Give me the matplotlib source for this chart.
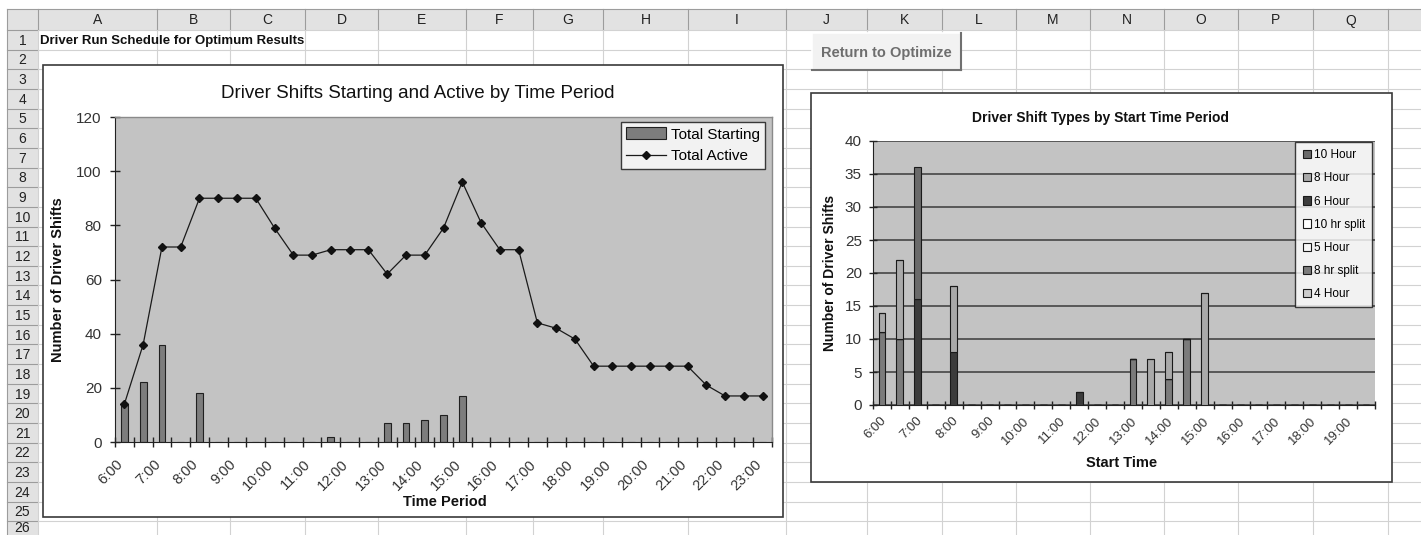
import matplotlib
matplotlib.use("Agg")
import matplotlib.pyplot as plt
from matplotlib.patches import Rectangle, Patch
from matplotlib.lines import Line2D
from matplotlib import font_manager as fm
import numpy as np

# ---------------- data ----------------
periods = ["6:00", "6:30", "7:00", "7:30", "8:00", "8:30", "9:00", "9:30", "10:00", "10:30",
           "11:00", "11:30", "12:00", "12:30", "13:00", "13:30", "14:00", "14:30", "15:00", "15:30",
           "16:00", "16:30", "17:00", "17:30", "18:00", "18:30", "19:00", "19:30", "20:00", "20:30",
           "21:00", "21:30", "22:00", "22:30", "23:00"]
total_starting = [14, 22, 36, 0, 18, 0, 0, 0, 0, 0, 0, 2, 0, 0, 7, 7, 8, 10, 17, 0,
                  0, 0, 0, 0, 0, 0, 0, 0, 0, 0, 0, 0, 0, 0, 0]
total_active = [14, 36, 72, 72, 90, 90, 90, 90, 79, 69, 69, 71, 71, 71, 62, 69, 69, 79, 96, 81,
                71, 71, 44, 42, 38, 28, 28, 28, 28, 28, 28, 21, 17, 17, 17]

start_periods = periods[:28]
shift_types = ["10 Hour", "8 Hour", "6 Hour", "10 hr split", "5 Hour", "8 hr split", "4 Hour"]
hr10 =      [0, 0, 20, 0, 0, 0, 0, 0, 0, 0, 0, 0, 0, 0, 0, 0, 0, 0, 0, 0, 0, 0, 0, 0, 0, 0, 0, 0]
hr8 =       [3, 12, 0, 0, 10, 0, 0, 0, 0, 0, 0, 0, 0, 0, 0, 7, 4, 0, 17, 0, 0, 0, 0, 0, 0, 0, 0, 0]
hr6 =       [0, 0, 16, 0, 8, 0, 0, 0, 0, 0, 0, 2, 0, 0, 0, 0, 0, 0, 0, 0, 0, 0, 0, 0, 0, 0, 0, 0]
hr10split = [0] * 28
hr5 =       [0] * 28
hr8split =  [11, 10, 0, 0, 0, 0, 0, 0, 0, 0, 0, 0, 0, 0, 7, 0, 4, 10, 0, 0, 0, 0, 0, 0, 0, 0, 0, 0]
hr4 =       [0] * 28
shift_values = [hr10, hr8, hr6, hr10split, hr5, hr8split, hr4]
shift_colors = ["#6a6a6a", "#a9a9a9", "#3c3c3c", "#ffffff", "#f6f6f6", "#7b7b7b", "#cdcdcd"]

col_labels = list("ABCDEFGHIJKLMNOPQ")
col_edges = [38, 157, 230, 305, 378, 466, 533, 603, 688, 786, 867, 942, 1016, 1090, 1164, 1238, 1313, 1388]
row_labels = [str(i) for i in range(1, 27)]

# ---------------- fonts ----------------
def has_font(name):
    try:
        fm.findfont(fm.FontProperties(family=name), fallback_to_default=False)
        return True
    except Exception:
        return False

REG = "Liberation Sans" if has_font("Liberation Sans") else "DejaVu Sans"
NAR = "Liberation Sans Narrow" if has_font("Liberation Sans Narrow") else REG
plt.rcParams["font.family"] = [REG, "DejaVu Sans"]

W, H = 1421, 535
fig = plt.figure(figsize=(W / 100, H / 100), dpi=100)
fig.patch.set_facecolor("white")

# ---------------- spreadsheet background ----------------
bg = fig.add_axes([0, 0, 1, 1])
bg.set_xlim(0, W)
bg.set_ylim(H, 0)
bg.axis("off")

HDR_TOP, HDR_BOT = 9, 30
ROW_H = 19.65
LEFT, RH_RIGHT = 7, 38
grid_c = "#d2d2d2"
hdr_c = "#e2e2e2"
hdr_line = "#9c9c9c"

bg.add_patch(Rectangle((LEFT, HDR_TOP), W - LEFT, HDR_BOT - HDR_TOP, facecolor=hdr_c, edgecolor="none", zorder=1))
bg.add_patch(Rectangle((LEFT, HDR_TOP), RH_RIGHT - LEFT, H - HDR_TOP, facecolor=hdr_c, edgecolor="none", zorder=1))

for k in range(0, 27):
    y = HDR_BOT + k * ROW_H
    bg.plot([LEFT, RH_RIGHT], [y, y], color=hdr_line, lw=0.8, zorder=2)
    bg.plot([RH_RIGHT, W], [y, y], color=grid_c, lw=0.8, zorder=2)
bg.plot([LEFT, W], [HDR_TOP, HDR_TOP], color=hdr_line, lw=0.8, zorder=2)
for x in col_edges:
    bg.plot([x, x], [HDR_TOP, HDR_BOT], color=hdr_line, lw=0.8, zorder=2)
    bg.plot([x, x], [HDR_BOT, H], color=grid_c, lw=0.8, zorder=2)
bg.plot([LEFT, LEFT], [HDR_TOP, H], color=hdr_line, lw=0.8, zorder=2)

for i, lab in enumerate(col_labels):
    xc = (col_edges[i] + col_edges[i + 1]) / 2
    bg.text(xc, (HDR_TOP + HDR_BOT) / 2 + 1, lab, ha="center", va="center", fontsize=10, color="#222222", zorder=3)
for k, lab in enumerate(row_labels):
    yc = HDR_BOT + (k + 0.5) * ROW_H
    if yc + 7 > H:
        bg.text((LEFT + RH_RIGHT) / 2, H - 0.5, lab, ha="center", va="bottom", fontsize=10, color="#222222",
                family=NAR, zorder=3)
    else:
        bg.text((LEFT + RH_RIGHT) / 2, yc + 1, lab, ha="center", va="center", fontsize=10, color="#222222",
                family=NAR, zorder=3)

bg.text(40, HDR_BOT + 0.5 * ROW_H + 1, "Driver Run Schedule for Optimum Results", ha="left", va="center",
        fontsize=9.5, fontweight="bold", family=NAR, color="#111111", zorder=3)

# button
bx0, by0, bx1, by1 = 812, 33, 961, 70
bg.add_patch(Rectangle((bx0, by0), bx1 - bx0, by1 - by0, facecolor="#f2f2f2", edgecolor="none", zorder=4))
bg.plot([bx0, bx1], [by0, by0], color="#ffffff", lw=1.2, zorder=5)
bg.plot([bx0, bx0], [by0, by1], color="#ffffff", lw=1.2, zorder=5)
bg.plot([bx0, bx1], [by1, by1], color="#707070", lw=1.5, zorder=5)
bg.plot([bx1, bx1], [by0, by1], color="#707070", lw=1.5, zorder=5)
bg.text((bx0 + bx1) / 2, (by0 + by1) / 2 + 1, "Return to Optimize", ha="center", va="center",
        fontsize=10.5, fontweight="bold", family=NAR, color="#6e6e6e", zorder=6)

# chart areas
L_box = (43, 65, 783, 517)
R_box = (811, 93, 1392, 482)
for (x0, y0, x1, y1) in (L_box, R_box):
    bg.add_patch(Rectangle((x0, y0), x1 - x0, y1 - y0, facecolor="white", edgecolor="#3a3a3a", lw=1.2, zorder=7))


def px_axes(x0, y0, x1, y1):
    return fig.add_axes([x0 / W, 1 - y1 / H, (x1 - x0) / W, (y1 - y0) / H])


PLOT_BG = "#c3c3c3"

# ---------------- left chart ----------------
axL = px_axes(115, 117, 772, 442)
axL.set_facecolor(PLOT_BG)
n = len(periods)
xi = np.arange(n)
bars = axL.bar(xi, total_starting, width=0.36, color="#7d7d7d", edgecolor="#202020", lw=0.8, zorder=2)
line, = axL.plot(xi, total_active, color="#1a1a1a", lw=0.9, marker="D", ms=4.2, mfc="#111111", mec="#111111",
                 zorder=3)
axL.set_xlim(-0.5, n - 0.5)
axL.set_ylim(0, 120)
axL.set_yticks(np.arange(0, 121, 20))
axL.set_xticks(np.arange(-0.5, n, 1.0), minor=True)
axL.set_xticks(xi[::2])
axL.set_xticklabels([])
axL.tick_params(axis="x", which="major", length=0)
axL.tick_params(axis="x", which="minor", direction="inout", length=7, width=1, color="#222222")
axL.tick_params(axis="y", direction="inout", length=7, width=1, color="#222222", labelsize=11,
                labelcolor="#333333", pad=6)
for lab in axL.get_yticklabels():
    lab.set_family(NAR)
for s in ("top", "right"):
    axL.spines[s].set_color("#8a8a8a")
    axL.spines[s].set_linewidth(1.0)
axL.spines["left"].set_color("#222222")
axL.spines["bottom"].set_color("#222222")
for i in xi[::2]:
    axL.text(i - 0.45, -5.5, periods[i], rotation=45, rotation_mode="anchor", ha="right", va="top",
             fontsize=10.5, family=NAR, color="#333333")
axL.set_ylabel("Number of Driver Shifts", fontsize=10.5, fontweight="bold", family=NAR, labelpad=8,
               color="#111111")
fig.text(445 / W, 1 - 502 / H, "Time Period", ha="center", va="center", fontsize=10.5, fontweight="bold",
         family=NAR, color="#111111")
fig.text(418 / W, 1 - 93 / H, "Driver Shifts Starting and Active by Time Period", ha="center", va="center",
         fontsize=13.5, color="#111111")
legL = axL.legend([bars, line], ["Total Starting", "Total Active"], loc="upper right",
                  bbox_to_anchor=(765 / W, 1 - 122 / H), bbox_transform=fig.transFigure,
                  borderaxespad=0, frameon=True, fancybox=False, fontsize=11, handlelength=2.6,
                  handleheight=0.8, labelspacing=0.5, borderpad=0.35, handletextpad=0.3)
legL.get_frame().set_edgecolor("#111111")
legL.get_frame().set_linewidth(1.0)
for t in legL.get_texts():
    t.set_family(NAR)

# ---------------- right chart ----------------
axR = px_axes(873, 141, 1375, 405)
axR.set_facecolor(PLOT_BG)
m = len(start_periods)
xr = np.arange(m)
order = [6, 5, 4, 3, 2, 1, 0]  # bottom -> top (reverse of legend)
bottom = np.zeros(m)
for k in order:
    vals = np.array(shift_values[k], dtype=float)
    axR.bar(xr, vals, width=0.38, bottom=bottom, color=shift_colors[k], edgecolor="#1a1a1a", lw=0.8,
            zorder=3)
    bottom += vals
axR.set_xlim(-0.5, m - 0.5)
axR.set_ylim(0, 40)
axR.set_yticks(np.arange(0, 41, 5))
axR.grid(axis="y", color="#3a3a3a", lw=1.1, zorder=1)
axR.set_axisbelow(True)
axR.set_xticks(np.arange(-0.5, m, 1.0), minor=True)
axR.set_xticks(xr[::2])
axR.set_xticklabels([])
axR.tick_params(axis="x", which="major", length=0)
axR.tick_params(axis="x", which="minor", direction="inout", length=6, width=1, color="#222222")
axR.tick_params(axis="y", direction="inout", length=6, width=1, color="#222222", labelsize=11,
                labelcolor="#333333", pad=5)
for lab in axR.get_yticklabels():
    lab.set_family(NAR)
for s in ("top", "right"):
    axR.spines[s].set_visible(False)
axR.spines["left"].set_color("#222222")
axR.spines["bottom"].set_color("#222222")
for i in xr[::2]:
    axR.text(i - 0.1, -1.5, start_periods[i], rotation=45, rotation_mode="anchor", ha="right", va="top",
             fontsize=9.5, family=NAR, color="#333333")
axR.set_ylabel("Number of Driver Shifts", fontsize=10, fontweight="bold", family=NAR, labelpad=6,
               color="#111111")
fig.text(1122 / W, 1 - 463 / H, "Start Time", ha="center", va="center", fontsize=10.5, fontweight="bold",
         family=NAR, color="#111111")
fig.text(1100 / W, 1 - 118 / H, "Driver Shift Types by Start Time Period", ha="center", va="center",
         fontsize=10, fontweight="bold", family=NAR, color="#111111")
leg_handles = [Patch(facecolor=shift_colors[k], edgecolor="#1a1a1a", lw=0.8) for k in range(len(shift_types))]
legR = axR.legend(leg_handles, shift_types, loc="upper right", bbox_to_anchor=(1372 / W, 1 - 142 / H),
                  bbox_transform=fig.transFigure, borderaxespad=0, frameon=True, fancybox=False, fontsize=8.5,
                  handlelength=0.7, handleheight=0.7, labelspacing=0.95, borderpad=0.6, handletextpad=0.25)
legR.get_frame().set_edgecolor("#111111")
legR.get_frame().set_linewidth(1.0)
for t in legR.get_texts():
    t.set_family(NAR)

fig.savefig("out.png", dpi=100)
